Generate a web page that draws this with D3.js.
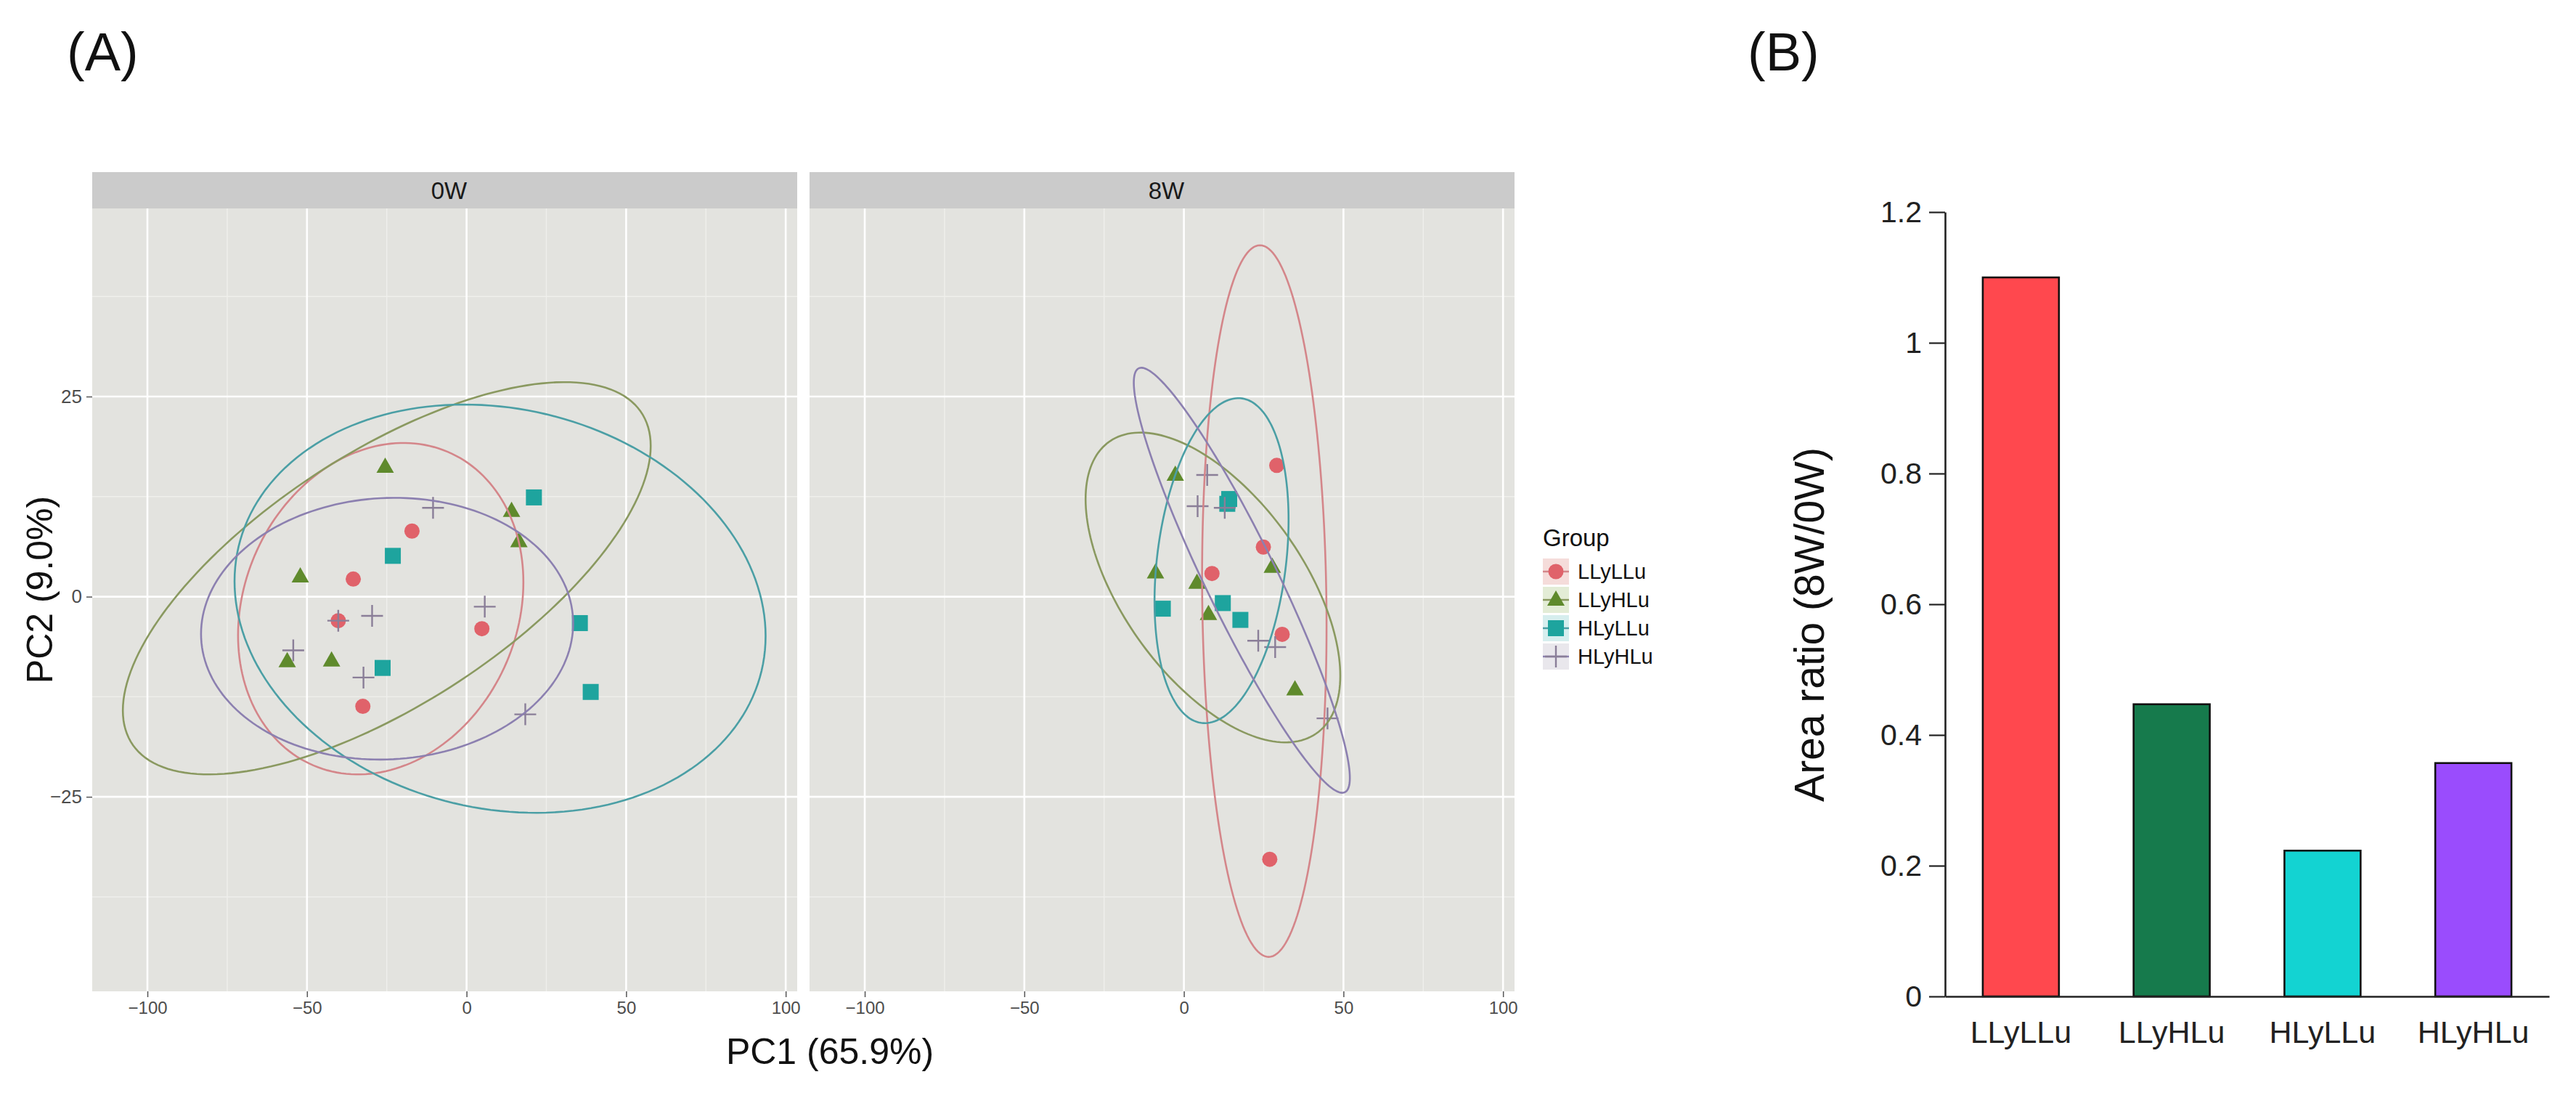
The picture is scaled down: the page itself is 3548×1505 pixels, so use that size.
<!DOCTYPE html>
<html><head><meta charset="utf-8">
<script src="https://cdn.jsdelivr.net/npm/d3@7"></script>
<style>
body{margin:0;background:#fff}
svg{display:block}
text{font-family:"Liberation Sans",Arial,Helvetica,sans-serif}
</style>
</head><body>
<svg id="c" width="3548" height="1505"></svg>
<script>
// ---------------- DATA ----------------
const groups = ["LLyLLu", "LLyHLu", "HLyLLu", "HLyHLu"];
const facets = ["0W", "8W"];
const pcaXTicks = [-100, -50, 0, 50, 100];
const pcaXMinor = [-75, -25, 25, 75];
const pcaYTicks = [-25, 0, 25];
const pcaYMinor = [-37.5, -12.5, 12.5, 37.5];

// PCA scores [PC1, PC2], week 0
const pts0W_LLyLLu = [[-17.1, 8.2], [-35.5, 2.2], [-40.2, -3.0], [4.8, -4.0], [-32.5, -13.7]];
const pts0W_LLyHLu = [[-25.5, 16.2], [14.1, 10.7], [16.4, 6.9], [-52.1, 2.5], [-56.2, -8.1], [-42.3, -8.0]];
const pts0W_HLyLLu = [[21.1, 12.4], [-23.1, 5.1], [35.5, -3.3], [-26.3, -8.9], [38.9, -11.9]];
const pts0W_HLyHLu = [[-10.5, 11.1], [-29.6, -2.4], [5.7, -1.25], [-54.3, -6.7], [-32.3, -10.1], [18.4, -14.7], [-40.2, -3.0]];
// PCA scores [PC1, PC2], week 8
const pts8W_LLyLLu = [[29.1, 16.4], [24.9, 6.2], [8.8, 2.9], [30.8, -4.7], [26.9, -32.8]];
const pts8W_LLyHLu = [[-2.7, 15.2], [-8.9, 3.0], [4.1, 1.7], [27.7, 3.7], [7.7, -2.2], [34.8, -11.6]];
const pts8W_HLyLLu = [[14.2, 12.2], [13.6, 11.6], [-6.6, -1.5], [12.2, -0.8], [17.7, -2.9]];
const pts8W_HLyHLu = [[7.3, 15.2], [4.3, 11.3], [12.8, 11.1], [23.3, -5.5], [28.6, -6.3], [45.0, -15.2]];

// confidence ellipses (data units): centre, half extents, cos of phase (tilt)
const ell0W = [
  {g: "LLyLLu", cx: -26.9, cy: -1.5, rx: 44.7, ry: 20.7, c: 0.16},
  {g: "LLyHLu", cx: -25.0, cy: 2.3, rx: 82.7, ry: 24.5, c: 0.674},
  {g: "HLyLLu", cx: 10.5, cy: -1.5, rx: 83.2, ry: 25.5, c: -0.134},
  {g: "HLyHLu", cx: -24.9, cy: -4.0, rx: 58.3, ry: 16.35, c: 0.04}
];
const ell8W = [
  {g: "LLyLLu", cx: 25.2, cy: -0.55, rx: 19.5, ry: 44.45, c: -0.07},
  {g: "LLyHLu", cx: 9.1, cy: 1.15, rx: 39.9, ry: 19.35, c: -0.57},
  {g: "HLyLLu", cx: 11.8, cy: 4.5, rx: 21.0, ry: 20.3, c: 0.25},
  {g: "HLyHLu", cx: 18.15, cy: 2.05, rx: 33.85, ry: 26.55, c: -0.93}
];

// bar chart
const barCategories = ["LLyLLu", "LLyHLu", "HLyLLu", "HLyHLu"];
const areaRatio = [1.1, 0.447, 0.223, 0.357];
const barYTicks = [0, 0.2, 0.4, 0.6, 0.8, 1, 1.2];

// ---------------- STYLE ----------------
const pointColor = {LLyLLu: "#e0626a", LLyHLu: "#5f8a2c", HLyLLu: "#1ea49e", HLyHLu: "#8a7e98"};
const ellColor = {LLyLLu: "#d4868a", LLyHLu: "#8a9960", HLyLLu: "#4b9fa5", HLyHLu: "#8c80b0"};
const keyBg = {LLyLLu: "#f5dcda", LLyHLu: "#e3ecd6", HLyLLu: "#d6eeee", HLyHLu: "#e9e7ec"};
const barColor = {LLyLLu: "#ff484e", LLyHLu: "#167a4c", HLyLLu: "#13d3d2", HLyHLu: "#9a4cfd"};
const shapePath = {
  LLyLLu: d3.symbol(d3.symbolCircle, Math.PI * 10.5 * 10.5)(),
  LLyHLu: "M0,-13L12,8L-12,8Z",
  HLyLLu: "M-11,-11H11V11H-11Z",
  HLyHLu: "M-15,0H15M0,-15V15"
};

const svg = d3.select("#c");
const ptsBy = {
  "0W": {LLyLLu: pts0W_LLyLLu, LLyHLu: pts0W_LLyHLu, HLyLLu: pts0W_HLyLLu, HLyHLu: pts0W_HLyHLu},
  "8W": {LLyLLu: pts8W_LLyLLu, LLyHLu: pts8W_LLyHLu, HLyLLu: pts8W_HLyLLu, HLyHLu: pts8W_HLyHLu}
};
const ellBy = {"0W": ell0W, "8W": ell8W};

// panel labels
svg.append("text").attr("x", 92).attr("y", 97).attr("font-size", 74).attr("fill", "#111").text("(A)");
svg.append("text").attr("x", 2407).attr("y", 97).attr("font-size", 74).attr("fill", "#111").text("(B)");

// ---------------- PCA facets ----------------
const xDomain = [-117.3, 103.6];
const panelTop = 287, panelBottom = 1365, stripTop = 237;
const panelRanges = {"0W": [127, 1098], "8W": [1115, 2086]};
const y = d3.scaleLinear().domain([-49.3, 48.5]).range([panelBottom, panelTop]);

facets.forEach(f => {
  const [x0, x1] = panelRanges[f];
  const x = d3.scaleLinear().domain(xDomain).range([x0, x1]);
  const g = svg.append("g");
  // strip
  g.append("rect").attr("x", x0).attr("y", stripTop).attr("width", x1 - x0).attr("height", panelTop - stripTop).attr("fill", "#cbcbcb");
  g.append("text").attr("x", (x0 + x1) / 2 + 6).attr("y", (stripTop + panelTop) / 2).attr("dy", "0.36em")
    .attr("text-anchor", "middle").attr("font-size", 33).attr("fill", "#1a1a1a").text(f);
  // panel
  g.append("rect").attr("x", x0).attr("y", panelTop).attr("width", x1 - x0).attr("height", panelBottom - panelTop).attr("fill", "#e3e3df");
  // minor grid
  g.selectAll(".mx").data(pcaXMinor).join("line").attr("x1", d => x(d)).attr("x2", d => x(d))
    .attr("y1", panelTop).attr("y2", panelBottom).attr("stroke", "#efefec").attr("stroke-width", 1.4);
  g.selectAll(".my").data(pcaYMinor).join("line").attr("y1", d => y(d)).attr("y2", d => y(d))
    .attr("x1", x0).attr("x2", x1).attr("stroke", "#efefec").attr("stroke-width", 1.4);
  // major grid
  g.selectAll(".Mx").data(pcaXTicks).join("line").attr("x1", d => x(d)).attr("x2", d => x(d))
    .attr("y1", panelTop).attr("y2", panelBottom).attr("stroke", "#fff").attr("stroke-width", 2.6);
  g.selectAll(".My").data(pcaYTicks).join("line").attr("y1", d => y(d)).attr("y2", d => y(d))
    .attr("x1", x0).attr("x2", x1).attr("stroke", "#fff").attr("stroke-width", 2.6);

  // points
  groups.forEach(gr => {
    const isCross = gr === "HLyHLu";
    g.selectAll(null).data(ptsBy[f][gr]).join("path")
      .attr("d", shapePath[gr])
      .attr("transform", d => `translate(${x(d[0])},${y(d[1])})`)
      .attr("fill", isCross ? "none" : pointColor[gr])
      .attr("stroke", isCross ? pointColor[gr] : "none")
      .attr("stroke-width", isCross ? 2.4 : 0);
  });

  // ellipses
  const line = d3.line().x(d => x(d[0])).y(d => y(d[1])).curve(d3.curveLinearClosed);
  ellBy[f].forEach(e => {
    const phi = Math.acos(e.c);
    const pts = d3.range(0, 360, 2).map(a => {
      const t = a * Math.PI / 180;
      return [e.cx + e.rx * Math.cos(t), e.cy + e.ry * Math.cos(t - phi)];
    });
    g.append("path").attr("d", line(pts)).attr("fill", "none")
      .attr("stroke", ellColor[e.g]).attr("stroke-width", 2.6);
  });

  // x axis
  const ax = svg.append("g").attr("transform", `translate(0,${panelBottom})`)
    .call(d3.axisBottom(x).tickValues(pcaXTicks).tickSize(8).tickPadding(6).tickFormat(d3.format("d")));
  ax.select(".domain").remove();
  ax.selectAll("line").attr("stroke", "#555").attr("stroke-width", 1.5);
  ax.selectAll("text").attr("font-size", 24).attr("fill", "#4d4d4d").style("font-family", '"Liberation Sans",Arial,sans-serif');

  if (f === "0W") {
    const ay = svg.append("g").attr("transform", `translate(${x0},0)`)
      .call(d3.axisLeft(y).tickValues(pcaYTicks).tickSize(8).tickPadding(6).tickFormat(d3.format("d")));
    ay.select(".domain").remove();
    ay.selectAll("line").attr("stroke", "#555").attr("stroke-width", 1.5);
    ay.selectAll("text").attr("font-size", 26).attr("fill", "#4d4d4d").style("font-family", '"Liberation Sans",Arial,sans-serif');
  }
});

// axis titles
svg.append("text").attr("x", 1143).attr("y", 1465).attr("text-anchor", "middle").attr("font-size", 50)
  .attr("fill", "#111").text("PC1 (65.9%)");
svg.append("text").attr("transform", "translate(72,812) rotate(-90)").attr("text-anchor", "middle")
  .attr("font-size", 50).attr("fill", "#111").text("PC2 (9.0%)");

// legend
const lg = svg.append("g");
lg.append("text").attr("x", 2125).attr("y", 752).attr("font-size", 33).attr("fill", "#111").text("Group");
const keyY = d3.scalePoint().domain(groups).range([787, 904]);
groups.forEach(gr => {
  const cy = keyY(gr);
  lg.append("rect").attr("x", 2125).attr("y", cy - 18).attr("width", 36).attr("height", 36).attr("fill", keyBg[gr]);
  lg.append("line").attr("x1", 2125).attr("x2", 2161).attr("y1", cy).attr("y2", cy)
    .attr("stroke", ellColor[gr]).attr("stroke-width", 2.6);
  const isCross = gr === "HLyHLu";
  lg.append("path").attr("d", shapePath[gr]).attr("transform", `translate(2143,${cy})`)
    .attr("fill", isCross ? "none" : pointColor[gr])
    .attr("stroke", isCross ? pointColor[gr] : "none").attr("stroke-width", isCross ? 2.4 : 0);
  lg.append("text").attr("x", 2173).attr("y", cy).attr("dy", "0.36em").attr("font-size", 29)
    .attr("fill", "#111").text(gr);
});

// ---------------- Bar chart ----------------
const xb = d3.scaleBand().domain(barCategories).range([2679, 3511]).paddingInner(0.495).paddingOuter(0.25);
const yb = d3.scaleLinear().domain([0, 1.2]).range([1372, 292]);
const bars = barCategories.map((c, i) => ({c, v: areaRatio[i]}));
svg.selectAll(".bar").data(bars).join("rect")
  .attr("x", d => xb(d.c)).attr("y", d => yb(d.v))
  .attr("width", xb.bandwidth()).attr("height", d => yb(0) - yb(d.v))
  .attr("fill", d => barColor[d.c]).attr("stroke", "#111").attr("stroke-width", 2.6);

const byAx = svg.append("g").attr("transform", "translate(2679,0)")
  .call(d3.axisLeft(yb).tickValues(barYTicks).tickSize(22).tickSizeOuter(0).tickPadding(10).tickFormat(d3.format("~g")));
byAx.select(".domain").attr("stroke", "#222").attr("stroke-width", 2.6);
byAx.selectAll(".tick line").attr("stroke", "#222").attr("stroke-width", 2.2);
byAx.selectAll("text").attr("font-size", 41).attr("fill", "#222").style("font-family", '"Liberation Sans",Arial,sans-serif');

const bxAx = svg.append("g").attr("transform", "translate(0,1372)")
  .call(d3.axisBottom(xb).tickSize(0).tickSizeOuter(0).tickPadding(33));
bxAx.select(".domain").attr("stroke", "#222").attr("stroke-width", 2.6);
bxAx.selectAll("text").attr("font-size", 43).attr("fill", "#222").style("font-family", '"Liberation Sans",Arial,sans-serif');

svg.append("text").attr("transform", "translate(2512,860) rotate(-90)").attr("text-anchor", "middle")
  .attr("font-size", 57).attr("fill", "#111").text("Area ratio (8W/0W)");
</script>
</body></html>
